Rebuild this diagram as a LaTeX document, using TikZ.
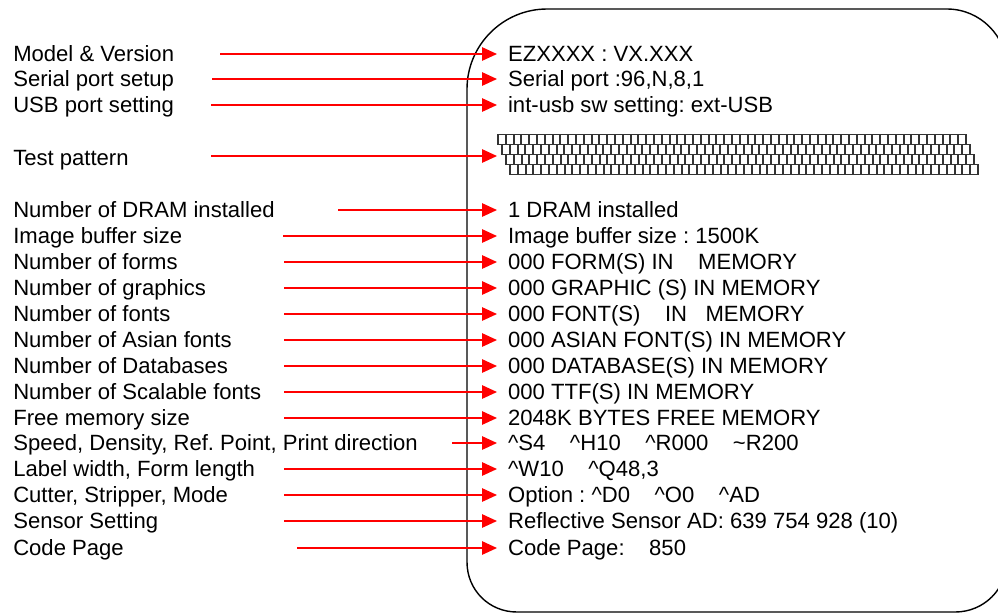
\documentclass[tikz,border=0pt]{standalone}
\usepackage{fontspec}
\setmainfont{Liberation Sans}
\usepackage{tikz}
\usetikzlibrary{arrows.meta, positioning}
\usepackage{xcolor}
\frenchspacing
\definecolor{arrowred}{HTML}{FF0000}
\definecolor{cellgray}{HTML}{333333}
\tikzset{
  lbl/.style={
    anchor=west, inner sep=0pt, text height=11.2pt, text depth=0pt,
    font=\fontsize{15.7}{18}\selectfont
  },
  val/.style={
    anchor=west, inner xsep=0.27cm, inner ysep=0pt,
    text height=11.2pt, text depth=0pt,
    font=\fontsize{15.7}{18}\selectfont
  },
  arrow/.style={-{Triangle[length=0.37cm, width=0.33cm]}, line width=1.2pt, arrowred},
  cell/.style={draw=cellgray, line width=1.4pt, fill=white}
}

\begin{document}
\begin{tikzpicture}[x=0.025cm, y=-0.025cm]
  \useasboundingbox (0,0) rectangle (998,614);
  \clip (0,0) rectangle (998,614);
  % Printout outline
  \draw[line width=1pt] (467,300) -- (467,89)
    .. controls (467,45) and (503,9) .. (547,9) -- (947,9)
    .. controls (980,9) and (1007,36) .. (1007,69) -- (1007,560)
    .. controls (1007,589) and (984,612) .. (955,612) -- (517,612)
    .. controls (489,612) and (467,590) .. (467,562) -- cycle;

  % Header
  \node[lbl] (lmodel) at (13,54) {Model \& Version};
  \node[val] (vmodel) at (497,54) {EZXXXX : VX.XXX};
  \draw[arrow] (220,0 |- vmodel.west) -- (vmodel.west);

  \node[lbl] (lserial) at (13,79) {Serial port setup};
  \node[val] (vserial) at (497,79) {Serial port :96,N,8,1};
  \draw[arrow] (212,0 |- vserial.west) -- (vserial.west);

  \node[lbl] (lusb) at (13,105) {USB port setting};
  \node[val] (vusb) at (497,105) {int-usb sw setting: ext-USB};
  \draw[arrow] (211,0 |- vusb.west) -- (vusb.west);

  % Test pattern
  \node[lbl] (ltest) at (13,158) {Test pattern};
  \node[anchor=west, inner sep=0pt, minimum width=12cm, minimum height=1cm]
    (vtest) at (497,156) {};
  \foreach \r in {0,...,3}
    \foreach \c in {0,...,59}
      \draw[cell] ({498+4*\r+7.8*\c},{134.5+10*\r}) rectangle +(7.8,10);
  \draw[arrow] (211,0 |- vtest.west) -- (vtest.west);

  % Memory
  \node[lbl] (ldram) at (13,210) {Number of DRAM installed};
  \node[val] (vdram) at (497,210) {1 DRAM installed};
  \draw[arrow] (338,0 |- vdram.west) -- (vdram.west);

  \node[lbl] (limage) at (13,236) {Image buffer size};
  \node[val] (vimage) at (497,236) {Image buffer size : 1500K};
  \draw[arrow] (283,0 |- vimage.west) -- (vimage.west);

  \node[lbl] (lforms) at (13,262) {Number of forms};
  \node[val] (vforms) at (497,262) {000 FORM(S) IN~~~~MEMORY};
  \draw[arrow] (284,0 |- vforms.west) -- (vforms.west);

  \node[lbl] (lgraph) at (13,288) {Number of graphics};
  \node[val] (vgraph) at (497,288) {000 GRAPHIC (S) IN MEMORY};
  \draw[arrow] (284,0 |- vgraph.west) -- (vgraph.west);

  \node[lbl] (lfonts) at (13,314) {Number of fonts};
  \node[val] (vfonts) at (497,314) {000 FONT(S)~~~~IN~~~MEMORY};
  \draw[arrow] (284,0 |- vfonts.west) -- (vfonts.west);

  \node[lbl] (lasian) at (13,340) {Number of Asian fonts};
  \node[val] (vasian) at (497,340) {000 ASIAN FONT(S) IN MEMORY};
  \draw[arrow] (284,0 |- vasian.west) -- (vasian.west);

  \node[lbl] (ldb) at (13,366) {Number of Databases};
  \node[val] (vdb) at (497,366) {000 DATABASE(S) IN MEMORY};
  \draw[arrow] (284,0 |- vdb.west) -- (vdb.west);

  \node[lbl] (lttf) at (13,392) {Number of Scalable fonts};
  \node[val] (vttf) at (497,392) {000 TTF(S) IN MEMORY};
  \draw[arrow] (284,0 |- vttf.west) -- (vttf.west);

  \node[lbl] (lfree) at (13,418) {Free memory size};
  \node[val] (vfree) at (497,418) {2048K BYTES FREE MEMORY};
  \draw[arrow] (284,0 |- vfree.west) -- (vfree.west);

  % Settings
  \node[lbl] (lspeed) at (13,443) {Speed, Density, Ref. Point, Print direction};
  \node[val] (vspeed) at (497,443)
    {\textasciicircum S4~~~~\textasciicircum H10~~~~\textasciicircum R000~~~~\textasciitilde R200};
  \draw[arrow] (452,0 |- vspeed.west) -- (vspeed.west);

  \node[lbl] (lwidth) at (13,469) {Label width, Form length};
  \node[val] (vwidth) at (497,469) {\textasciicircum W10~~~~\textasciicircum Q48,3};
  \draw[arrow] (284,0 |- vwidth.west) -- (vwidth.west);

  \node[lbl] (lcutter) at (13,495) {Cutter, Stripper, Mode};
  \node[val] (vcutter) at (497,495)
    {Option : \textasciicircum D0~~~~\textasciicircum O0~~~~\textasciicircum AD};
  \draw[arrow] (284,0 |- vcutter.west) -- (vcutter.west);

  \node[lbl] (lsensor) at (13,521) {Sensor Setting};
  \node[val] (vsensor) at (497,521) {Reflective Sensor AD: 639 754 928 (10)};
  \draw[arrow] (284,0 |- vsensor.west) -- (vsensor.west);

  \node[lbl] (lcode) at (13,548) {Code Page};
  \node[val] (vcode) at (497,548) {Code Page:~~~~850};
  \draw[arrow] (297,0 |- vcode.west) -- (vcode.west);
\end{tikzpicture}
\end{document}
